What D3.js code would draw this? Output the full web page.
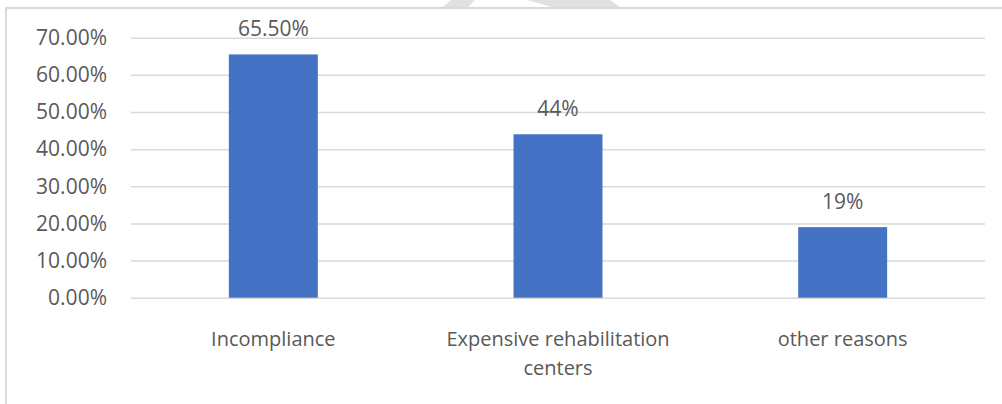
<!DOCTYPE html>
<html>
<head>
	<meta charset="utf-8">
	<script src="https://cdnjs.cloudflare.com/ajax/libs/d3/7.8.5/d3.min.js"></script>
	<style>
	body {
		margin: 0;
		background: #fff;
	}

	svg text {
		font-family: "Open Sans", sans-serif;
		fill: #595959;
	}

	.grid line {
		stroke: #d9d9d9;
		stroke-width: 1.5px;
	}

	.grid path {
		display: none;
	}
</style>
</head>
<body>
	<svg width="1002" height="404"></svg>
	<script>
	//chart data
	let categories = ["Incompliance", "Expensive rehabilitation centers", "other reasons"];
	let values = [0.655, 0.44, 0.19];
	let valueLabels = ["65.50%", "44%", "19%"];
	let yTicks = [0, 0.1, 0.2, 0.3, 0.4, 0.5, 0.6, 0.7];

	//define chart margins
	let svg = d3.select("svg"),
		margin = {top: 37.7, right: 17, bottom: 106.3, left: 131},
		width = svg.attr("width") - margin.left - margin.right,
		height = svg.attr("height") - margin.top - margin.bottom,
		g = svg.append("g").attr("transform", "translate(" + margin.left + "," + margin.top + ")");

	//chart frame (only top and left edges visible)
	svg.append("path")
		.attr("d", "M6,404V8H1002")
		.attr("fill", "none")
		.attr("stroke", "#d9d9d9")
		.attr("stroke-width", 2);

	//watermark fragments peeking in at the top
	svg.append("polygon")
		.attr("points", "443,7 451,0 475,0 468,7")
		.attr("fill", "#e1e1e1");
	svg.append("polygon")
		.attr("points", "527,0 610,0 620,7 552,7")
		.attr("fill", "#e1e1e1");

	//define scales
	let x = d3.scaleBand()
		.domain(categories)
		.range([0, width])
		.paddingInner(0.6875)
		.paddingOuter(0.34375);

	let y = d3.scaleLinear()
		.domain([0, 0.7])
		.range([height, 0]);

	//gridlines + y labels
	let yAxis = g.append("g")
		.attr("class", "grid")
		.call(d3.axisLeft(y)
			.tickValues(yTicks)
			.tickSize(-width)
			.tickPadding(24)
			.tickFormat(d3.format(".2%")));
	yAxis.selectAll("text")
		.style("font-size", "21px")
		.attr("fill", "#595959");

	//bars
	g.selectAll(".bar")
		.data(values)
		.enter()
		.append("rect")
		.attr("class", "bar")
		.attr("x", function(d, i) { return x(categories[i]); })
		.attr("width", x.bandwidth())
		.attr("y", function(d) { return y(d); })
		.attr("height", function(d) { return height - y(d); })
		.attr("fill", "#4472c4");

	//value labels
	g.selectAll(".value")
		.data(values)
		.enter()
		.append("text")
		.attr("class", "value")
		.attr("x", function(d, i) { return x(categories[i]) + x.bandwidth() / 2; })
		.attr("y", function(d) { return y(d) - 18; })
		.attr("text-anchor", "middle")
		.style("font-size", "21px")
		.text(function(d, i) { return valueLabels[i]; });

	//category labels, wrapped to the band width
	let cat = g.selectAll(".cat")
		.data(categories)
		.enter()
		.append("text")
		.attr("class", "cat")
		.attr("text-anchor", "middle")
		.style("font-size", "20px")
		.attr("transform", function(d) { return "translate(" + (x(d) + x.bandwidth() / 2) + "," + (height + 48) + ")"; });

	cat.each(function(d) {
		let t = d3.select(this),
			words = d.split(" "),
			line = [],
			lineNo = 0,
			tspan = t.append("tspan").attr("x", 0).attr("y", 0);
		words.forEach(function(w) {
			line.push(w);
			tspan.text(line.join(" "));
			if (tspan.node().getComputedTextLength() > x.step() - 20 && line.length > 1) {
				line.pop();
				tspan.text(line.join(" "));
				line = [w];
				lineNo++;
				tspan = t.append("tspan").attr("x", 0).attr("y", lineNo * 29).text(w);
			}
		});
	});
	</script>
</body>
</html>
